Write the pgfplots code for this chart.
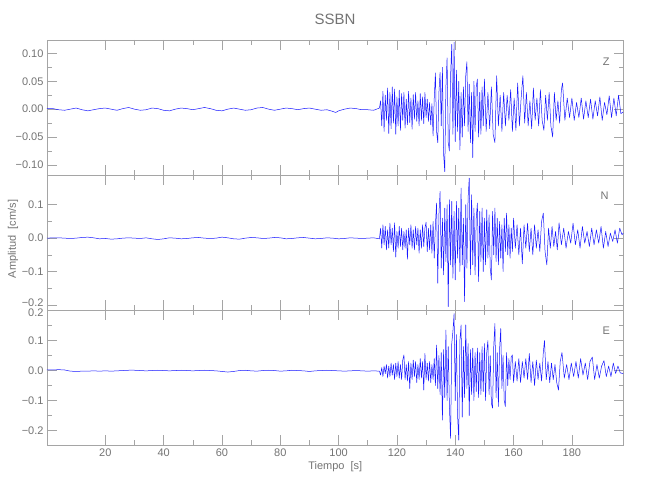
\documentclass[border=0pt]{standalone}
\usepackage{fontspec}
\setmainfont{Liberation Sans}
\usepackage{pgfplots}
\pgfplotsset{compat=1.18}
\definecolor{axgray}{RGB}{165,165,165}
\definecolor{txtgray}{RGB}{115,115,115}
\definecolor{trace}{RGB}{25,25,255}
\pgfplotsset{
  seis/.style={
    scale only axis, width=576.5pt, height=135pt,
    xmin=0, xmax=197.7,
    axis line style={axgray, line width=0.6pt},
    every tick/.style={axgray, line width=0.6pt},
    major tick length=10pt, minor tick length=5pt,
    tick align=inside,
    xtick={20,40,60,80,100,120,140,160,180},
    minor x tick num=1, minor y tick num=1,
    tick label style={font=\fontsize{11}{13}\selectfont, text=txtgray},
    /pgf/number format/assume math mode=true,
    xticklabels={},
    clip=true,
  },
  trc/.style={trace, line width=0.5pt, line join=round},
}
\begin{document}
\begin{tikzpicture}
\useasboundingbox (0,0) rectangle (650pt,500pt);
\node[text=txtgray, font=\fontsize{15}{17}\selectfont] at (335pt,481pt) {SSBN};
\node[text=txtgray, font=\fontsize{11}{13}\selectfont, rotate=90] at (13pt,261pt) {Amplitud\ \ [cm/s]};
% ---------- Z ----------
\begin{axis}[seis, at={(47pt,460pt)}, anchor=north west,
  ymin=-0.118, ymax=0.124,
  ytick={-0.1,-0.05,0,0.05,0.1},
  yticklabels={−0.10,−0.05,0.00,0.05,0.10}]
\addplot[trc] table[row sep=\\] {
x y\\
0 0.001\\ 2 0.001\\ 4 -0.001\\ 6 -0.002\\ 8 0.000\\ 10 0.002\\ 12 -0.001\\ 14 -0.003\\ 16 -0.001\\ 18 0.001\\
20 0.002\\ 22 0.000\\ 24 -0.002\\ 26 0.001\\ 28 0.003\\ 30 0.000\\ 32 -0.002\\ 34 -0.001\\ 36 0.002\\ 38 0.001\\
40 -0.002\\ 42 -0.003\\ 44 0.000\\ 46 0.002\\ 48 0.001\\ 50 -0.001\\ 52 0.001\\ 54 0.003\\ 56 0.001\\ 58 -0.002\\
60 -0.003\\ 62 0.000\\ 64 0.002\\ 66 0.000\\ 68 -0.002\\ 70 -0.001\\ 72 0.002\\ 74 0.003\\ 76 0.000\\ 78 -0.002\\
80 0.000\\ 82 0.002\\ 84 0.001\\ 86 -0.001\\ 88 0.001\\ 90 0.002\\ 92 0.000\\ 94 -0.002\\ 96 -0.001\\ 98 -0.004\\
99 -0.006\\ 100 -0.003\\ 102 0.000\\ 104 0.002\\ 106 0.001\\ 108 -0.001\\ 110 -0.001\\ 112 -0.002\\ 113 0.000\\ 114 0.002\\
114.4 0.015\\ 114.8 -0.030\\ 115.2 0.032\\ 115.6 -0.040\\ 116.0 0.025\\ 116.4 -0.020\\ 116.8 0.038\\ 117.2 -0.044\\
117.6 0.030\\ 118.0 -0.035\\ 118.4 0.040\\ 118.8 -0.025\\ 119.2 0.036\\ 119.6 -0.045\\ 120.0 0.022\\ 120.4 -0.030\\
120.8 0.034\\ 121.2 -0.038\\ 121.6 0.028\\ 122.0 -0.020\\ 122.4 0.030\\ 122.8 -0.034\\ 123.2 0.018\\ 123.6 -0.028\\
124.0 0.032\\ 124.4 -0.024\\ 124.8 0.020\\ 125.2 -0.036\\ 125.6 0.026\\ 126.0 -0.018\\ 126.4 0.030\\ 126.8 -0.022\\
127.2 0.015\\ 127.6 -0.030\\ 128.0 0.028\\ 128.4 -0.020\\ 128.8 0.022\\ 129.2 -0.026\\ 129.6 0.030\\ 130.0 -0.015\\
130.4 0.018\\ 130.8 -0.022\\ 131.2 0.012\\ 131.6 -0.028\\ 132.0 0.010\\ 132.4 -0.048\\ 132.8 0.020\\ 133.2 0.065\\
133.6 -0.040\\ 134.0 -0.060\\ 134.4 0.030\\ 134.8 0.066\\ 135.2 -0.030\\ 135.6 0.075\\ 136.0 -0.080\\ 136.4 -0.112\\
136.8 0.040\\ 137.2 0.092\\ 137.6 -0.060\\ 138.0 -0.075\\ 138.4 0.060\\ 138.8 0.116\\ 139.2 -0.045\\ 139.6 0.120\\
140.0 -0.058\\ 140.4 0.070\\ 140.8 -0.040\\ 141.2 0.050\\ 141.6 -0.073\\ 142.0 0.030\\ 142.4 -0.050\\ 142.8 0.040\\
143.2 -0.030\\ 143.6 0.060\\ 144.0 0.085\\ 144.4 -0.040\\ 144.8 0.045\\ 145.2 -0.060\\ 145.6 0.030\\ 146.0 -0.087\\
146.4 0.050\\ 146.8 -0.040\\ 147.2 0.040\\ 147.6 0.054\\ 148.0 -0.050\\ 148.4 0.030\\ 148.8 -0.045\\ 149.2 0.040\\
149.6 -0.030\\ 150.0 0.054\\
150.6 -0.040\\ 151.2 0.030\\ 151.8 -0.035\\ 152.4 0.040\\ 153.0 -0.045\\ 153.6 -0.060\\ 154.2 0.060\\ 154.8 -0.030\\
155.4 0.025\\ 156.0 -0.040\\ 156.6 0.030\\ 157.2 -0.030\\ 157.8 0.025\\ 158.4 -0.020\\ 159.0 0.035\\ 159.6 -0.040\\
160.2 0.020\\ 160.8 -0.038\\ 161.4 0.047\\ 162.0 -0.030\\ 162.6 0.020\\ 163.2 0.060\\ 163.8 -0.025\\ 164.4 0.030\\
165.0 -0.030\\ 165.6 0.015\\ 166.2 -0.035\\ 166.8 0.038\\ 167.4 -0.020\\ 168.0 0.020\\ 168.6 -0.030\\ 169.2 0.035\\
169.8 -0.020\\ 170.4 -0.038\\ 171.0 0.025\\ 171.6 -0.020\\ 172.2 0.030\\ 172.8 -0.030\\ 173.4 -0.050\\ 174.0 0.030\\
174.6 -0.020\\ 175.2 0.015\\ 175.8 -0.025\\ 176.4 0.035\\
176.8 0.047\\ 177.6 -0.020\\ 178.4 0.020\\ 179.2 -0.015\\ 180.0 0.020\\ 180.8 -0.020\\ 181.6 0.012\\ 182.4 -0.015\\
183.2 0.020\\ 184.0 -0.018\\ 184.8 0.015\\ 185.6 -0.015\\ 186.4 0.018\\ 187.2 -0.018\\ 188.0 0.015\\ 188.8 -0.012\\
189.6 0.022\\ 190.4 -0.020\\ 191.2 0.012\\ 192.0 -0.010\\ 192.8 0.024\\ 193.6 -0.015\\ 194.4 0.020\\ 195.2 -0.012\\
196.0 0.025\\ 196.8 -0.008\\ 197.6 -0.005\\
};
\node[text=txtgray, font=\fontsize{11}{13}\selectfont] at (axis description cs:0.97,0.84) {Z};
\end{axis}
% ---------- N ----------
\begin{axis}[seis, at={(47pt,325pt)}, anchor=north west,
  ymin=-0.215, ymax=0.189,
  ytick={-0.2,-0.1,0,0.1},
  yticklabels={\raisebox{2.5pt}[\height][\depth]{−0.2},−0.1,0.0,0.1}]
\addplot[trc] table[row sep=\\] {
x y\\
0 0.000\\ 2 0.001\\ 4 0.001\\ 6 0.000\\ 8 -0.001\\ 10 0.000\\ 12 0.002\\ 14 0.003\\ 16 0.001\\ 18 -0.002\\
20 -0.001\\ 22 -0.003\\ 24 -0.002\\ 26 0.000\\ 28 0.001\\ 30 0.000\\ 32 -0.001\\ 34 0.001\\ 36 -0.002\\ 38 -0.004\\
40 -0.002\\ 42 0.001\\ 44 0.000\\ 46 -0.002\\ 48 -0.001\\ 50 0.001\\ 52 0.002\\ 54 0.000\\ 56 -0.001\\ 58 0.000\\
60 0.003\\ 62 0.001\\ 64 -0.002\\ 66 -0.003\\ 68 0.000\\ 70 0.002\\ 72 0.001\\ 74 -0.001\\ 76 0.000\\ 78 0.002\\
80 0.001\\ 82 -0.002\\ 84 -0.001\\ 86 0.001\\ 88 0.002\\ 90 0.000\\ 92 -0.002\\ 94 -0.001\\ 96 0.001\\ 98 0.000\\
100 -0.002\\ 102 -0.001\\ 104 0.001\\ 106 0.000\\ 108 -0.001\\ 110 0.000\\ 112 0.001\\ 114 -0.002\\
114.4 0.030\\ 114.8 -0.030\\ 115.2 0.040\\ 115.6 -0.020\\ 116.0 0.035\\ 116.4 -0.035\\ 116.8 0.025\\ 117.2 -0.030\\
117.6 0.045\\ 118.0 -0.020\\ 118.4 0.030\\ 118.8 -0.040\\ 119.2 0.046\\ 119.6 -0.057\\ 120.0 0.020\\ 120.4 -0.030\\
120.8 0.035\\ 121.2 -0.025\\ 121.6 0.030\\ 122.0 -0.035\\ 122.4 0.020\\ 122.8 -0.030\\ 123.2 0.025\\ 123.6 -0.063\\
124.0 0.030\\ 124.4 -0.020\\ 124.8 0.040\\ 125.2 -0.030\\ 125.6 0.025\\ 126.0 -0.035\\ 126.4 0.035\\ 126.8 -0.020\\
127.2 0.030\\ 127.6 -0.045\\ 128.0 0.025\\ 128.4 -0.030\\ 128.8 0.040\\ 129.2 -0.025\\ 129.6 0.030\\ 130.0 0.048\\
130.4 -0.040\\ 130.8 0.030\\ 131.2 -0.035\\ 131.6 0.040\\ 132.0 -0.045\\ 132.4 0.050\\ 132.8 -0.060\\ 133.2 0.040\\
133.6 0.105\\ 134.0 -0.135\\ 134.4 0.070\\ 134.8 0.140\\ 135.2 -0.090\\ 135.6 0.060\\ 136.0 -0.110\\ 136.4 0.090\\
136.8 -0.070\\ 137.2 0.100\\ 137.6 -0.205\\ 138.0 0.115\\ 138.4 -0.080\\ 138.8 0.110\\ 139.2 -0.120\\ 139.6 0.080\\
140.0 -0.125\\ 140.4 0.110\\ 140.8 -0.060\\ 141.2 0.090\\ 141.6 -0.100\\ 142.0 0.150\\ 142.4 -0.080\\ 142.8 0.060\\
143.2 -0.190\\ 143.6 0.100\\ 144.0 -0.090\\ 144.4 0.120\\ 144.8 0.180\\ 145.2 -0.110\\ 145.6 0.130\\ 146.0 -0.080\\
146.4 0.090\\ 146.8 -0.110\\ 147.2 0.060\\ 147.6 0.105\\ 148.0 -0.130\\ 148.4 0.080\\ 148.8 -0.070\\ 149.2 0.090\\
149.6 -0.100\\ 150.0 0.060\\ 150.4 -0.080\\ 150.8 0.085\\ 151.2 -0.060\\ 151.6 0.070\\ 152.0 -0.090\\ 152.4 -0.125\\
152.8 0.080\\ 153.2 -0.050\\ 153.6 0.090\\ 154.0 -0.070\\ 154.4 0.060\\ 154.8 -0.080\\ 155.2 0.050\\ 155.6 -0.060\\
156.0 0.040\\ 156.4 -0.100\\ 156.8 0.060\\ 157.2 -0.040\\ 157.6 0.075\\ 158.0 -0.050\\ 158.4 0.040\\ 158.8 -0.060\\
159.2 0.030\\ 159.6 -0.040\\ 160.0 0.060\\
160.6 -0.030\\ 161.2 0.040\\ 161.8 -0.050\\ 162.4 0.030\\ 163.0 -0.077\\ 163.6 0.040\\ 164.2 -0.030\\ 164.8 0.045\\
165.4 -0.040\\ 166.0 0.030\\ 166.6 -0.050\\ 167.2 0.040\\ 167.8 -0.030\\ 168.4 0.025\\ 169.0 -0.040\\ 169.6 0.050\\
170.2 0.075\\ 170.8 -0.040\\ 171.4 -0.080\\ 172.0 0.030\\ 172.6 -0.030\\ 173.2 0.035\\ 173.8 -0.025\\ 174.4 0.020\\
175.0 -0.035\\ 175.6 0.046\\
176.4 -0.020\\ 177.2 0.030\\ 178.0 -0.030\\ 178.8 0.020\\ 179.6 -0.015\\ 180.4 0.045\\ 181.2 -0.020\\ 182.0 0.025\\
182.8 -0.030\\ 183.6 0.035\\ 184.4 -0.015\\ 185.2 0.020\\ 186.0 -0.025\\ 186.8 0.030\\ 187.6 -0.020\\ 188.4 0.025\\
189.2 -0.015\\ 190.0 0.035\\ 190.8 -0.030\\ 191.6 0.020\\ 192.4 -0.025\\ 193.2 0.015\\ 194.0 -0.010\\ 194.8 0.025\\
195.6 -0.015\\ 196.4 0.030\\ 197.2 0.010\\ 197.6 0.015\\
};
\node[text=txtgray, font=\fontsize{11}{13}\selectfont] at (axis description cs:0.967,0.845) {N};
\end{axis}
% ---------- E ----------
\begin{axis}[seis, at={(47pt,190pt)}, anchor=north west,
  ymin=-0.248, ymax=0.2017,
  ytick={-0.2,-0.1,0,0.1,0.2},
  yticklabels={−0.2,−0.1,0.0,0.1,\raisebox{-2.5pt}[\height][\depth]{0.2}},
  xticklabels={20,40,60,80,100,120,140,160,180},
  xlabel={Tiempo\ \ [s]},
  xlabel style={text=txtgray, font=\fontsize{11}{13}\selectfont, yshift=2pt}]
\addplot[trc] table[row sep=\\] {
x y\\
0 0.002\\ 2 0.002\\ 4 0.003\\ 6 0.002\\ 8 -0.002\\ 10 -0.003\\ 12 -0.002\\ 14 -0.002\\ 16 -0.001\\ 18 -0.002\\
20 -0.001\\ 22 -0.002\\ 24 -0.001\\ 26 0.000\\ 28 0.001\\ 30 0.001\\ 32 0.000\\ 34 -0.001\\ 36 0.000\\ 38 0.001\\
40 0.000\\ 42 -0.001\\ 44 0.000\\ 46 0.001\\ 48 0.000\\ 50 -0.001\\ 52 0.000\\ 54 0.001\\ 56 0.000\\ 58 -0.001\\
60 -0.003\\ 62 -0.005\\ 64 -0.003\\ 66 0.000\\ 68 0.001\\ 70 -0.001\\ 72 -0.002\\ 74 0.000\\ 76 0.001\\ 78 0.000\\
80 -0.002\\ 82 -0.001\\ 84 0.001\\ 86 0.000\\ 88 -0.001\\ 90 -0.003\\ 92 -0.001\\ 94 0.000\\ 96 0.001\\ 98 0.000\\
100 -0.001\\ 102 -0.002\\ 104 -0.001\\ 106 0.000\\ 108 -0.001\\ 110 -0.002\\ 112 -0.001\\ 114 -0.002\\
114.4 -0.015\\ 114.8 0.010\\ 115.2 -0.020\\ 115.6 0.015\\ 116.0 -0.010\\ 116.4 0.020\\ 116.8 -0.025\\ 117.2 0.015\\
117.6 -0.020\\ 118.0 0.025\\ 118.4 -0.015\\ 118.8 0.020\\ 119.2 -0.030\\ 119.6 0.025\\ 120.0 -0.020\\ 120.4 0.030\\
120.8 -0.025\\ 121.2 0.020\\ 121.6 -0.030\\ 122.0 0.035\\ 122.4 0.052\\ 122.8 -0.030\\ 123.2 0.020\\ 123.6 -0.035\\
124.0 0.030\\ 124.4 -0.060\\ 124.8 0.025\\ 125.2 -0.030\\ 125.6 0.035\\ 126.0 -0.020\\ 126.4 0.030\\ 126.8 -0.040\\
127.2 0.020\\ 127.6 -0.030\\ 128.0 0.040\\ 128.4 -0.025\\ 128.8 0.030\\ 129.2 -0.065\\ 129.6 0.057\\ 130.0 -0.030\\
130.4 0.025\\ 130.8 -0.035\\ 131.2 0.030\\ 131.6 -0.040\\ 132.0 0.020\\ 132.4 -0.030\\ 132.8 0.040\\ 133.2 -0.050\\
133.6 0.085\\ 134.0 -0.060\\ 134.4 0.050\\ 134.8 -0.080\\ 135.2 0.060\\ 135.6 -0.165\\ 136.0 0.070\\ 136.4 -0.090\\
136.8 0.135\\ 137.2 -0.100\\ 137.6 0.080\\ 138.0 -0.120\\ 138.4 -0.226\\ 138.8 0.090\\ 139.2 0.130\\ 139.6 0.190\\
140.0 -0.100\\ 140.4 0.120\\ 140.8 -0.150\\ 141.2 -0.232\\ 141.6 0.100\\ 142.0 0.152\\ 142.4 -0.155\\ 142.8 0.080\\
143.2 -0.090\\ 143.6 0.152\\ 144.0 -0.060\\ 144.4 0.090\\ 144.8 -0.150\\ 145.2 0.070\\ 145.6 -0.080\\ 146.0 0.075\\
146.4 -0.100\\ 146.8 0.060\\ 147.2 -0.070\\ 147.6 0.075\\ 148.0 -0.090\\ 148.4 0.060\\ 148.8 -0.080\\ 149.2 0.080\\
149.6 -0.070\\ 150.0 0.090\\ 150.4 -0.100\\ 150.8 0.060\\ 151.2 0.100\\ 151.6 -0.080\\ 152.0 0.050\\ 152.4 -0.110\\
152.8 -0.125\\ 153.2 0.080\\ 153.6 0.157\\ 154.0 -0.090\\ 154.4 0.060\\ 154.8 -0.120\\ 155.2 0.070\\ 155.6 0.140\\
156.0 -0.060\\ 156.4 0.050\\ 156.8 -0.100\\ 157.2 -0.120\\ 157.6 0.060\\ 158.0 -0.050\\ 158.4 0.040\\ 158.8 -0.030\\
159.2 0.045\\ 159.6 0.052\\ 160.0 -0.040\\
160.6 0.030\\ 161.2 -0.035\\ 161.8 0.040\\ 162.4 -0.040\\ 163.0 0.030\\ 163.6 -0.025\\ 164.2 0.040\\ 164.8 -0.030\\
165.4 0.057\\ 166.0 -0.040\\ 166.6 0.030\\ 167.2 -0.050\\ 167.8 0.035\\ 168.4 -0.030\\ 169.0 0.025\\ 169.6 -0.035\\
170.2 0.060\\ 170.6 0.100\\ 171.2 -0.030\\ 171.8 0.030\\ 172.4 -0.040\\ 173.0 0.025\\ 173.6 -0.030\\ 174.2 0.020\\
174.8 -0.040\\ 175.4 -0.065\\ 176.0 0.030\\ 176.6 0.060\\
177.4 -0.025\\ 178.2 0.020\\ 179.0 -0.030\\ 179.8 0.025\\ 180.6 -0.020\\ 181.4 0.030\\ 182.2 -0.025\\ 183.0 0.040\\
183.8 -0.015\\ 184.6 0.025\\ 185.4 -0.030\\ 186.2 0.030\\ 187.0 0.045\\ 187.8 -0.030\\ 188.6 0.020\\ 189.4 -0.025\\
190.2 0.015\\ 191.0 0.033\\ 191.8 -0.020\\ 192.6 0.015\\ 193.4 -0.020\\ 194.2 0.025\\ 195.0 -0.010\\ 195.8 0.015\\
196.6 -0.008\\ 197.6 -0.010\\
};
\node[text=txtgray, font=\fontsize{11}{13}\selectfont] at (axis description cs:0.97,0.845) {E};
\end{axis}
\end{tikzpicture}
\end{document}
